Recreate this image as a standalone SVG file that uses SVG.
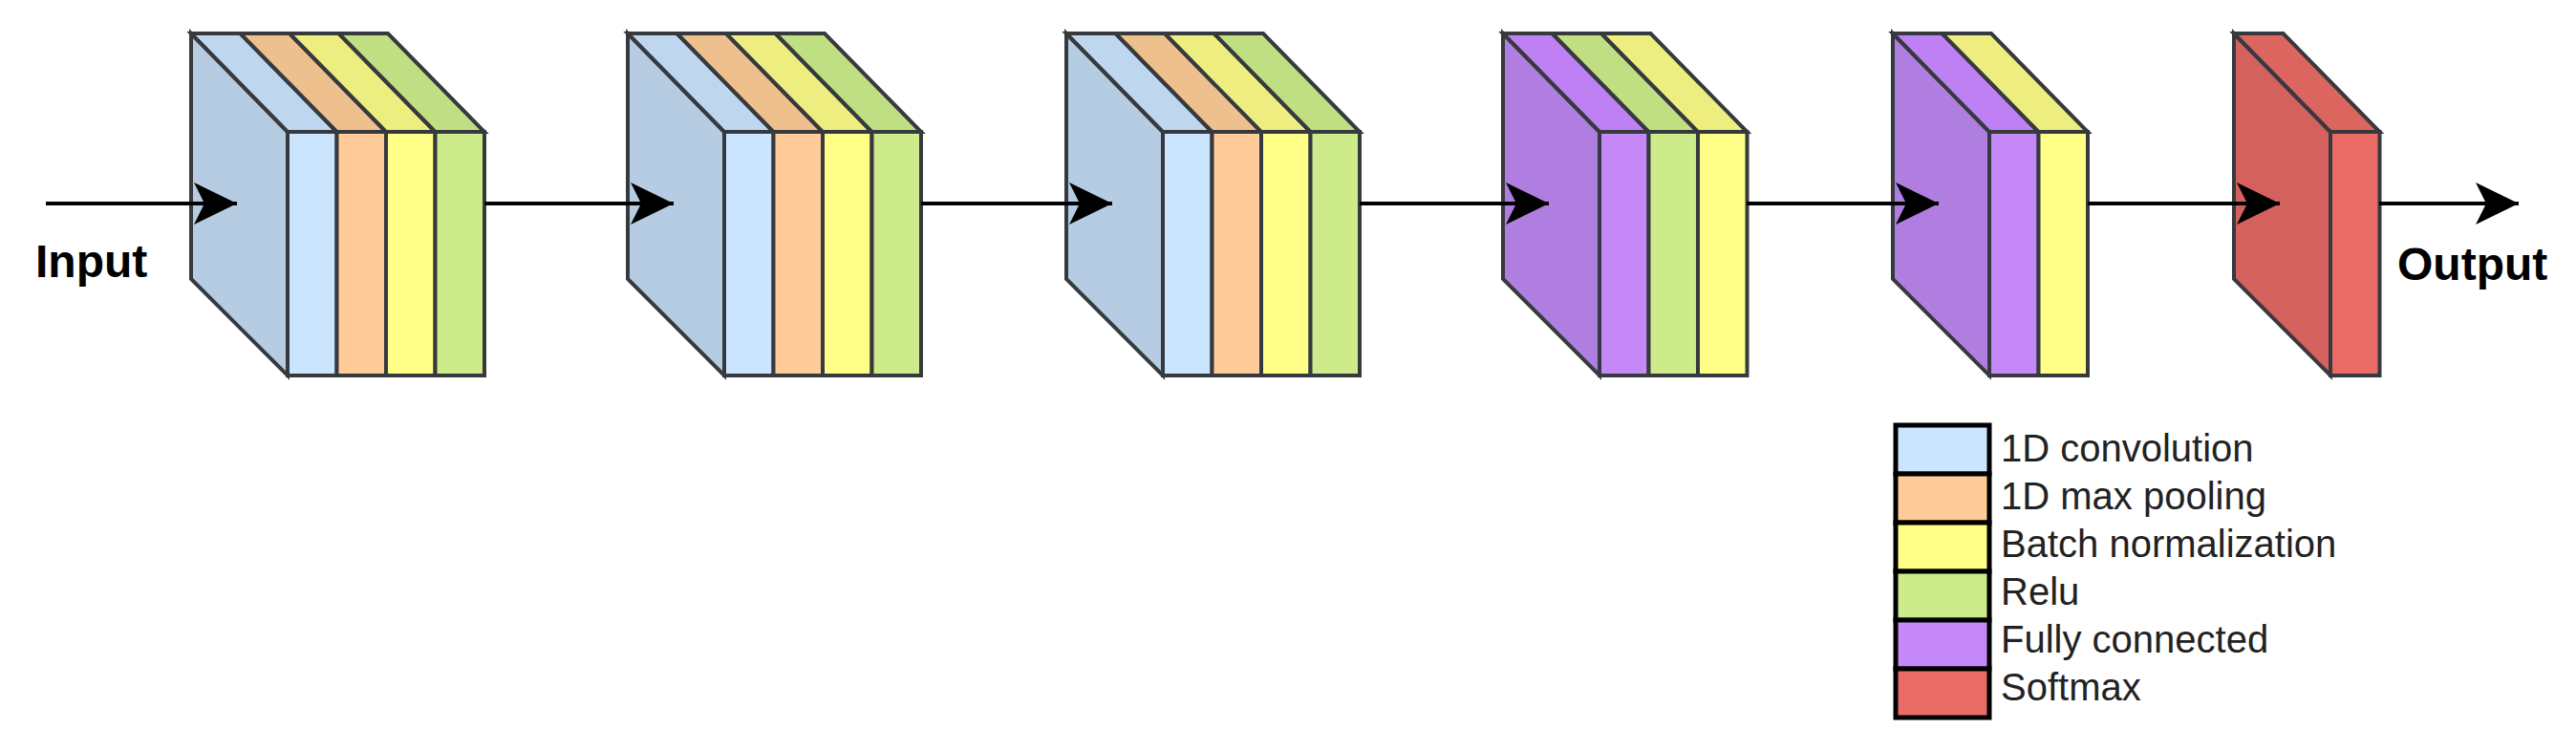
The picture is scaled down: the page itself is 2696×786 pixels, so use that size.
<svg xmlns="http://www.w3.org/2000/svg" width="2696" height="786" viewBox="0 0 2696 786">
<defs>
<style>
.s{stroke:#36393d;stroke-width:4;stroke-linejoin:miter}
.lg{stroke:#000;stroke-width:5}
.t{font-family:"Liberation Sans",Arial,sans-serif;font-size:40px;fill:#222}
.b{font-family:"Liberation Sans",Arial,sans-serif;font-size:48px;font-weight:bold;fill:#000}
.c{stroke:#000;stroke-width:4;fill:none}
</style>
<marker id="ah" viewBox="-46 -24 48 48" refX="0" refY="0" markerWidth="48" markerHeight="48" markerUnits="userSpaceOnUse" orient="auto">
<path d="M0,0 L-45,-22 L-34,0 L-45,22 Z" fill="#000"/>
</marker>
</defs>
<rect width="2696" height="786" fill="#fff"/>

<g id="block1">
<polygon class="s" fill="#b5cce3" points="200,35 301,138 301,393 200,292"/>
<polygon class="s" fill="#bfd7ee" points="200,35 251.5,35 352.5,138 301,138"/>
<polygon class="s" fill="#eec08e" points="251.5,35 303,35 404,138 352.5,138"/>
<polygon class="s" fill="#eeee80" points="303,35 354.5,35 455.5,138 404,138"/>
<polygon class="s" fill="#c0de82" points="354.5,35 406,35 507,138 455.5,138"/>
<rect class="s" fill="#cce5ff" x="301" y="138" width="51.5" height="255"/>
<rect class="s" fill="#ffcc99" x="352.5" y="138" width="51.5" height="255"/>
<rect class="s" fill="#ffff88" x="404" y="138" width="51.5" height="255"/>
<rect class="s" fill="#cdeb8b" x="455.5" y="138" width="51.5" height="255"/>
</g>

<g id="block2" transform="translate(457,0)">
<polygon class="s" fill="#b5cce3" points="200,35 301,138 301,393 200,292"/>
<polygon class="s" fill="#bfd7ee" points="200,35 251.5,35 352.5,138 301,138"/>
<polygon class="s" fill="#eec08e" points="251.5,35 303,35 404,138 352.5,138"/>
<polygon class="s" fill="#eeee80" points="303,35 354.5,35 455.5,138 404,138"/>
<polygon class="s" fill="#c0de82" points="354.5,35 406,35 507,138 455.5,138"/>
<rect class="s" fill="#cce5ff" x="301" y="138" width="51.5" height="255"/>
<rect class="s" fill="#ffcc99" x="352.5" y="138" width="51.5" height="255"/>
<rect class="s" fill="#ffff88" x="404" y="138" width="51.5" height="255"/>
<rect class="s" fill="#cdeb8b" x="455.5" y="138" width="51.5" height="255"/>
</g>

<g id="block3" transform="translate(916,0)">
<polygon class="s" fill="#b5cce3" points="200,35 301,138 301,393 200,292"/>
<polygon class="s" fill="#bfd7ee" points="200,35 251.5,35 352.5,138 301,138"/>
<polygon class="s" fill="#eec08e" points="251.5,35 303,35 404,138 352.5,138"/>
<polygon class="s" fill="#eeee80" points="303,35 354.5,35 455.5,138 404,138"/>
<polygon class="s" fill="#c0de82" points="354.5,35 406,35 507,138 455.5,138"/>
<rect class="s" fill="#cce5ff" x="301" y="138" width="51.5" height="255"/>
<rect class="s" fill="#ffcc99" x="352.5" y="138" width="51.5" height="255"/>
<rect class="s" fill="#ffff88" x="404" y="138" width="51.5" height="255"/>
<rect class="s" fill="#cdeb8b" x="455.5" y="138" width="51.5" height="255"/>
</g>

<g id="block4" transform="translate(1373,0)">
<polygon class="s" fill="#b07de0" points="200,35 301,138 301,393 200,292"/>
<polygon class="s" fill="#bf80f3" points="200,35 251.5,35 352.5,138 301,138"/>
<polygon class="s" fill="#c0de82" points="251.5,35 303,35 404,138 352.5,138"/>
<polygon class="s" fill="#eeee80" points="303,35 354.5,35 455.5,138 404,138"/>
<rect class="s" fill="#c488f7" x="301" y="138" width="51.5" height="255"/>
<rect class="s" fill="#cdeb8b" x="352.5" y="138" width="51.5" height="255"/>
<rect class="s" fill="#ffff88" x="404" y="138" width="51.5" height="255"/>
</g>

<g id="block5" transform="translate(1781,0)">
<polygon class="s" fill="#b07de0" points="200,35 301,138 301,393 200,292"/>
<polygon class="s" fill="#bf80f3" points="200,35 251.5,35 352.5,138 301,138"/>
<polygon class="s" fill="#eeee80" points="251.5,35 303,35 404,138 352.5,138"/>
<rect class="s" fill="#c488f7" x="301" y="138" width="51.5" height="255"/>
<rect class="s" fill="#ffff88" x="352.5" y="138" width="51.5" height="255"/>
</g>

<g id="block6" transform="translate(2138,0)">
<polygon class="s" fill="#d4615d" points="200,35 301,138 301,393 200,292"/>
<polygon class="s" fill="#dd6560" points="200,35 251.5,35 352.5,138 301,138"/>
<rect class="s" fill="#ea6b66" x="301" y="138" width="51.5" height="255"/>
</g>

<g id="connectors">
<line class="c" x1="48" y1="213" x2="248" y2="213" marker-end="url(#ah)"/>
<line class="c" x1="507" y1="213" x2="705" y2="213" marker-end="url(#ah)"/>
<line class="c" x1="964" y1="213" x2="1164" y2="213" marker-end="url(#ah)"/>
<line class="c" x1="1423" y1="213" x2="1621" y2="213" marker-end="url(#ah)"/>
<line class="c" x1="1828" y1="213" x2="2029" y2="213" marker-end="url(#ah)"/>
<line class="c" x1="2185" y1="213" x2="2386" y2="213" marker-end="url(#ah)"/>
<line class="c" x1="2490" y1="213" x2="2636" y2="213" marker-end="url(#ah)"/>
</g>

<g id="labels">
<text class="b" x="37" y="290">Input</text>
<text class="b" x="2509" y="293">Output</text>
</g>

<g id="legend">
<rect class="lg" fill="#cce5ff" x="1984" y="445" width="98" height="51"/>
<rect class="lg" fill="#ffcc99" x="1984" y="496" width="98" height="51"/>
<rect class="lg" fill="#ffff88" x="1984" y="547" width="98" height="51"/>
<rect class="lg" fill="#cdeb8b" x="1984" y="598" width="98" height="51"/>
<rect class="lg" fill="#c488f7" x="1984" y="649" width="98" height="51"/>
<rect class="lg" fill="#ea6b66" x="1984" y="700" width="98" height="51"/>
<text class="t" x="2094" y="483">1D convolution</text>
<text class="t" x="2094" y="533">1D max pooling</text>
<text class="t" x="2094" y="583">Batch normalization</text>
<text class="t" x="2094" y="633">Relu</text>
<text class="t" x="2094" y="683">Fully connected</text>
<text class="t" x="2094" y="733">Softmax</text>
</g>
</svg>
